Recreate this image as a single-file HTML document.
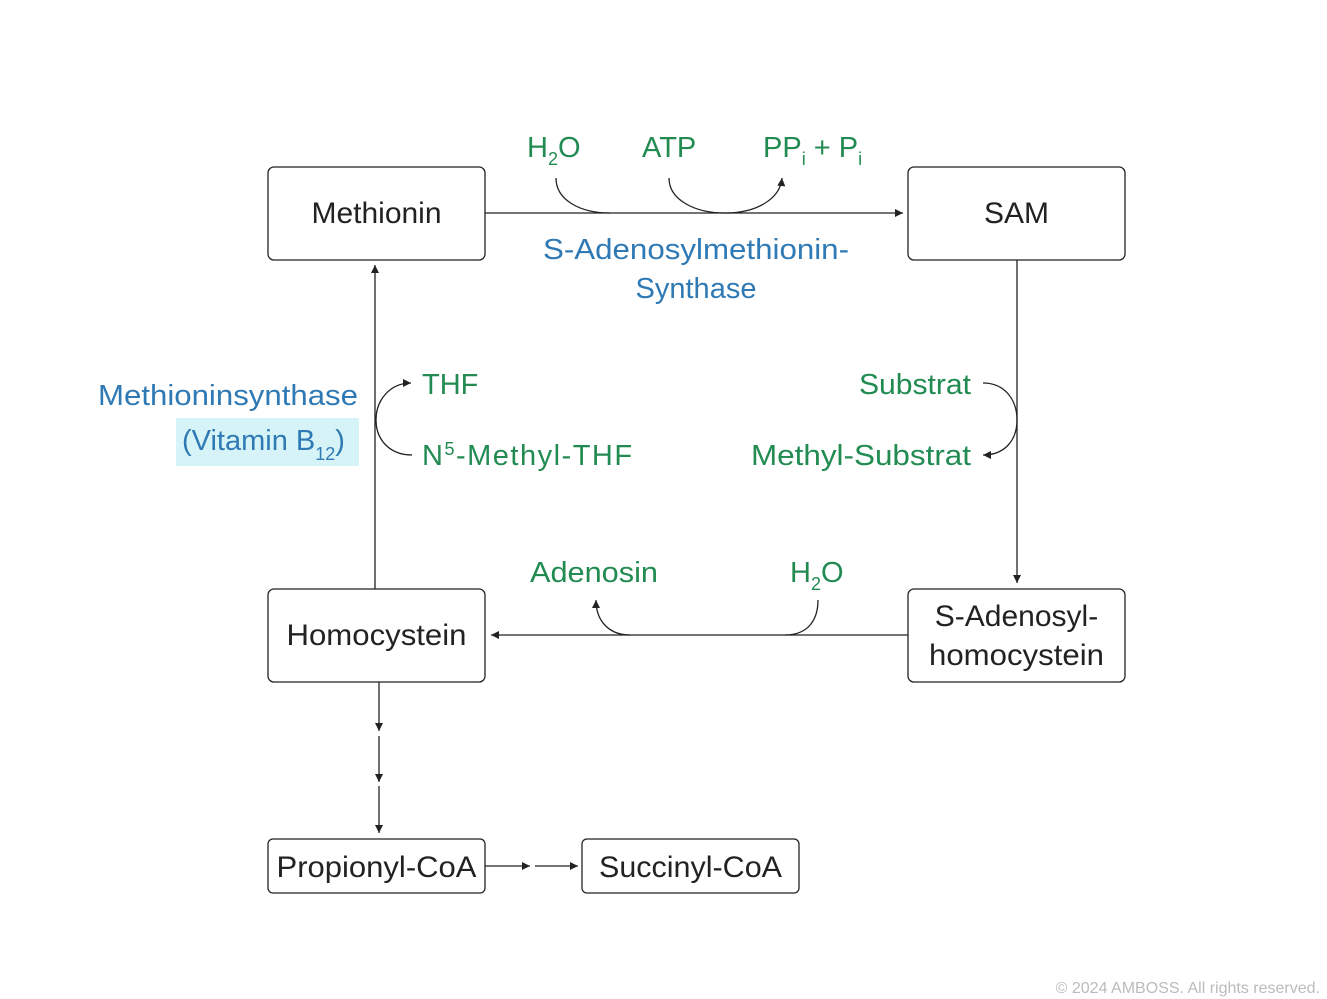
<!DOCTYPE html>
<html><head><meta charset="utf-8"><style>
html,body{margin:0;padding:0;background:#fff;}
svg{display:block;font-family:"Liberation Sans",sans-serif;}
.box{fill:#fff;stroke:#222;stroke-width:1.3;}
.ln{fill:none;stroke:#222;stroke-width:1.3;}
.k{fill:#222;font-size:30px;font-weight:300;}
.g{fill:#218b52;font-size:29px;}
.b{fill:#2f7ab5;font-size:29px;}
</style></head><body>
<svg width="1327" height="999" viewBox="0 0 1327 999">
<defs><marker id="ah" viewBox="0 0 10 10" refX="10" refY="5" markerWidth="11" markerHeight="8" markerUnits="userSpaceOnUse" orient="auto"><path d="M0,0 L10,5 L0,10 z" fill="#222"/></marker></defs>

<g>
<line class="ln" x1="485" y1="213" x2="903" y2="213" marker-end="url(#ah)"/>
<line class="ln" x1="1017" y1="260" x2="1017" y2="583" marker-end="url(#ah)"/>
<line class="ln" x1="908" y1="635" x2="491" y2="635" marker-end="url(#ah)"/>
<line class="ln" x1="375" y1="589" x2="375" y2="265" marker-end="url(#ah)"/>
<line class="ln" x1="379" y1="682" x2="379" y2="731" marker-end="url(#ah)"/>
<line class="ln" x1="379" y1="736" x2="379" y2="782" marker-end="url(#ah)"/>
<line class="ln" x1="379" y1="786" x2="379" y2="833" marker-end="url(#ah)"/>
<line class="ln" x1="485" y1="866" x2="530" y2="866" marker-end="url(#ah)"/>
<line class="ln" x1="535" y1="866" x2="578" y2="866" marker-end="url(#ah)"/>
</g>

<g>
<path class="ln" d="M556,178 C556,200 580,213 610,213"/>
<path class="ln" d="M669,178 C669,200 695,213 725,213 C755,213 780,200 782,178" marker-end="url(#ah)"/>
<path class="ln" d="M983,383 C1005,383 1017,400 1017,420 C1017,440 1005,455 983,455" marker-end="url(#ah)"/>
<path class="ln" d="M412,455 C390,455 376,440 376,420 C376,400 390,383 411,383" marker-end="url(#ah)"/>
<path class="ln" d="M818,600 C818,620 808,635 785,635"/>
<path class="ln" d="M630,635 C610,635 596,622 596,600" marker-end="url(#ah)"/>
</g>

<rect x="176" y="418" width="183" height="48" fill="#d6f4f8"/>

<g>
<rect class="box" x="268" y="167" width="217" height="93" rx="6"/>
<text class="k" x="376.5" y="223" text-anchor="middle">Methionin</text>
<rect class="box" x="908" y="167" width="217" height="93" rx="6"/>
<text class="k" x="1016.5" y="223" text-anchor="middle">SAM</text>
<rect class="box" x="268" y="589" width="217" height="93" rx="6"/>
<text class="k" x="376.5" y="645" text-anchor="middle" textLength="180" lengthAdjust="spacingAndGlyphs">Homocystein</text>
<rect class="box" x="908" y="589" width="217" height="93" rx="6"/>
<text class="k" x="1016.5" y="626" text-anchor="middle">S-Adenosyl-</text>
<text class="k" x="1016.5" y="665" text-anchor="middle" textLength="175" lengthAdjust="spacingAndGlyphs">homocystein</text>
<rect class="box" x="268" y="839" width="217" height="54" rx="5"/>
<text class="k" x="376.5" y="877" text-anchor="middle" textLength="200" lengthAdjust="spacingAndGlyphs">Propionyl-CoA</text>
<rect class="box" x="582" y="839" width="217" height="54" rx="5"/>
<text class="k" x="690.5" y="877" text-anchor="middle" textLength="183" lengthAdjust="spacingAndGlyphs">Succinyl-CoA</text>
</g>

<g>
<text class="g" x="527" y="157">H<tspan font-size="18" dy="8">2</tspan><tspan dy="-8">O</tspan></text>
<text class="g" x="642" y="157">ATP</text>
<text class="g" x="763" y="157">PP<tspan font-size="18" dy="8">i</tspan><tspan dy="-8"> + P</tspan><tspan font-size="18" dy="8">i</tspan></text>
<text class="g" x="422" y="394">THF</text>
<text class="g" x="422" y="465" letter-spacing="1.5">N<tspan font-size="18" dy="-10">5</tspan><tspan dy="10">-Methyl-THF</tspan></text>
<text class="g" x="971" y="394" text-anchor="end" textLength="112" lengthAdjust="spacingAndGlyphs">Substrat</text>
<text class="g" x="971" y="465" text-anchor="end" textLength="220" lengthAdjust="spacingAndGlyphs">Methyl-Substrat</text>
<text class="g" x="594" y="582" text-anchor="middle" textLength="128" lengthAdjust="spacingAndGlyphs">Adenosin</text>
<text class="g" x="790" y="582">H<tspan font-size="18" dy="8">2</tspan><tspan dy="-8">O</tspan></text>
</g>

<g>
<text class="b" x="696" y="259" text-anchor="middle" textLength="306" lengthAdjust="spacingAndGlyphs">S-Adenosylmethionin-</text>
<text class="b" x="696" y="298" text-anchor="middle">Synthase</text>
<text class="b" x="358" y="405" text-anchor="end" textLength="260" lengthAdjust="spacingAndGlyphs">Methioninsynthase</text>
<text class="b" x="182" y="450">(Vitamin B<tspan font-size="18" dy="10">12</tspan><tspan dy="-10">)</tspan></text>
</g>

<text x="1320" y="993" text-anchor="end" font-size="16" fill="#bbb">© 2024 AMBOSS. All rights reserved.</text>
</svg>
</body></html>
